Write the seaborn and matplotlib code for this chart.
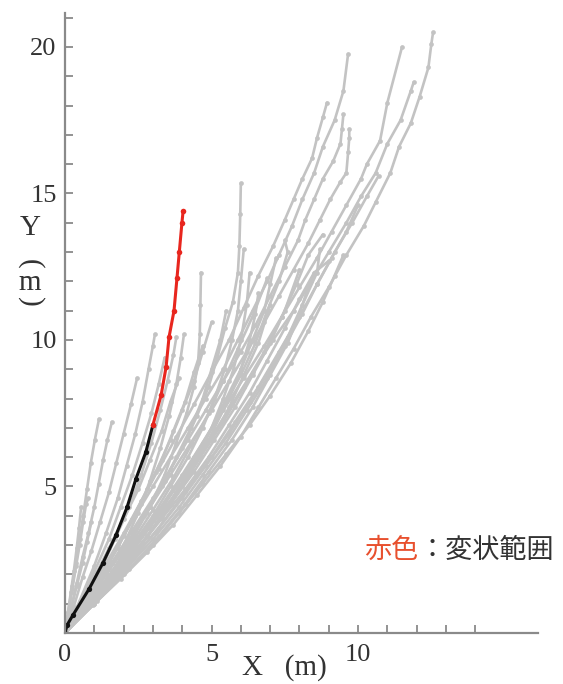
import matplotlib
matplotlib.use("Agg")
import matplotlib.pyplot as plt
import seaborn as sns
import pandas as pd

# ---------------- data (metres) ----------------
track_01 = [(0, 0), (0.1, 0.7), (0.2, 1.4), (0.3, 2.1), (0.4, 2.9), (0.48, 3.6), (0.55, 4.3)]
track_02 = [(0, 0), (0.12, 0.7), (0.25, 1.5), (0.38, 2.3), (0.5, 3.0), (0.62, 3.8), (0.72, 4.4), (0.8, 4.6)]
track_03 = [(0, 0), (0.12, 0.8), (0.25, 1.6), (0.38, 2.4), (0.5, 3.2), (0.62, 4.0), (0.75, 4.9), (0.88, 5.8), (1.02, 6.6), (1.16, 7.3)]
track_04 = [(0, 0), (0.2, 0.8), (0.4, 1.7), (0.6, 2.6), (0.8, 3.4), (1.0, 4.3), (1.15, 5.1), (1.3, 5.9), (1.45, 6.6), (1.6, 7.2)]
track_05 = [(0, 0), (0.3, 0.9), (0.6, 1.9), (0.9, 2.8), (1.2, 3.8), (1.5, 4.8), (1.75, 5.8), (2.0, 6.8), (2.25, 7.8), (2.46, 8.7)]
track_06 = [(0, 0), (0.5, 1.1), (1.0, 2.3), (1.4, 3.4), (1.8, 4.6), (2.1, 5.7), (2.4, 6.8), (2.65, 7.9), (2.85, 9.0), (3.0, 9.8), (3.07, 10.2)]
track_07 = [(0, 0), (0.6, 1.0), (1.2, 2.1), (1.7, 3.2), (2.2, 4.3), (2.6, 5.4), (2.95, 6.5), (3.25, 7.6), (3.5, 8.6), (3.7, 9.5), (3.8, 10.1)]
track_08 = [(0, 0), (0.7, 1.0), (1.4, 2.0), (2.0, 3.0), (2.5, 4.1), (2.9, 5.2), (3.25, 6.3), (3.55, 7.4), (3.8, 8.5), (3.95, 9.4), (4.06, 10.2)]
track_09 = [(0, 0), (0.8, 1.0), (1.6, 2.1), (2.3, 3.2), (2.9, 4.3), (3.4, 5.4), (3.8, 6.5), (4.15, 7.5), (4.4, 8.4), (4.54, 9.2), (4.6, 10.2), (4.62, 11.2), (4.64, 12.3)]
track_10 = [(0, 0), (0.7, 1.0), (1.4, 2.0), (2.1, 3.0), (2.8, 4.1), (3.4, 5.2), (4.0, 6.3), (4.5, 7.4), (4.9, 8.4), (5.2, 9.4), (5.46, 10.4), (5.73, 11.3), (5.9, 12.3), (5.95, 13.2), (5.98, 14.3), (6.0, 15.35)]
track_11 = [(0, 0), (0.8, 1.0), (1.6, 2.0), (2.3, 3.0), (3.0, 4.0), (3.6, 5.0), (4.2, 6.0), (4.7, 7.0), (5.1, 8.0), (5.45, 9.0), (5.7, 10.0), (5.9, 11.0), (6.0, 12.0), (6.1, 13.1)]
track_12 = [(0, 0), (0.9, 1.0), (1.8, 2.0), (2.6, 3.0), (3.3, 4.0), (3.9, 5.0), (4.5, 6.0), (5.0, 7.0), (5.4, 8.0), (5.75, 9.0), (6.0, 10.0), (6.2, 11.2), (6.3, 12.3)]
track_13 = [(0, 0), (0.8, 1.0), (1.6, 2.0), (2.4, 3.0), (3.1, 4.0), (3.8, 5.0), (4.4, 6.0), (5.0, 7.0), (5.5, 8.0), (6.0, 9.0), (6.4, 10.0), (6.8, 11.0), (7.0, 11.9), (7.2, 12.8)]
track_14 = [(0, 0), (0.9, 1.1), (1.8, 2.2), (2.6, 3.3), (3.4, 4.4), (4.1, 5.5), (4.8, 6.6), (5.4, 7.7), (6.0, 8.8), (6.5, 9.9), (6.9, 11.0), (7.3, 12.0), (7.6, 13.0), (7.5, 13.4)]
track_15 = [(0, 0), (0.6, 1.0), (1.3, 2.2), (2.0, 3.4), (2.6, 4.5), (3.2, 5.6), (3.8, 6.7), (4.4, 7.8), (5.0, 8.9), (5.6, 10.0), (6.1, 11.1), (6.6, 12.2), (7.1, 13.2), (7.5, 14.1), (7.8, 14.8), (8.1, 15.5), (8.43, 16.2), (8.6, 16.9), (8.8, 17.6), (8.94, 18.1)]
track_16 = [(0, 0), (0.6, 1.0), (1.2, 2.0), (1.8, 3.0), (2.4, 4.0), (3.0, 5.0), (3.6, 6.0), (4.2, 7.0), (4.8, 8.0), (5.4, 9.0), (5.9, 10.0), (6.4, 11.0), (6.9, 12.0), (7.3, 12.9), (7.75, 13.9), (8.1, 14.8), (8.5, 15.7), (8.8, 16.6), (9.2, 17.5), (9.5, 18.5), (9.66, 19.76)]
track_17 = [(0, 0), (0.8, 1.2), (1.6, 2.4), (2.3, 3.5), (3.0, 4.6), (3.6, 5.6), (4.2, 6.6), (4.8, 7.6), (5.4, 8.6), (6.0, 9.6), (6.5, 10.5), (7.0, 11.5), (7.5, 12.5), (7.95, 13.4), (8.2, 14.1), (8.5, 14.8), (8.8, 15.5), (9.15, 16.1), (9.4, 16.7), (9.45, 17.2), (9.5, 17.7)]
track_18 = [(0, 0), (0.7, 1.0), (1.4, 2.0), (2.2, 3.2), (2.9, 4.3), (3.6, 5.4), (4.3, 6.5), (5.0, 7.6), (5.6, 8.6), (6.2, 9.6), (6.8, 10.6), (7.3, 11.5), (7.8, 12.4), (8.3, 13.3), (8.7, 14.1), (9.05, 14.8), (9.4, 15.4), (9.6, 15.7), (9.66, 16.4), (9.7, 16.9), (9.7, 17.2)]
track_19 = [(0, 0), (0.8, 1.0), (1.6, 2.0), (2.4, 3.1), (3.2, 4.2), (4.0, 5.4), (4.7, 6.5), (5.4, 7.6), (6.1, 8.7), (6.8, 9.8), (7.4, 10.8), (8.0, 11.8), (8.6, 12.8), (9.1, 13.7), (9.6, 14.6), (10.1, 15.5), (10.3, 16.0), (10.75, 16.8), (11.0, 18.1), (11.5, 20.0)]
track_20 = [(0, 0), (0.9, 1.1), (1.7, 2.1), (2.6, 3.3), (3.4, 4.4), (4.2, 5.6), (5.0, 6.7), (5.7, 7.8), (6.4, 8.9), (7.1, 10.0), (7.8, 11.0), (8.4, 12.0), (9.0, 13.0), (9.6, 14.0), (10.1, 14.9), (10.6, 15.7), (11.0, 16.7), (11.45, 17.5), (11.8, 18.5), (11.9, 18.8)]
track_21 = [(0, 0), (0.95, 0.95), (1.9, 1.85), (2.8, 2.75), (3.7, 3.7), (4.5, 4.7), (5.3, 5.7), (6.0, 6.7), (6.6, 7.7), (7.2, 8.7), (7.8, 9.7), (8.4, 10.8), (9.0, 11.8), (9.6, 12.9), (10.2, 13.9), (10.6, 14.7), (11.1, 15.7), (11.4, 16.6), (11.8, 17.4), (12.1, 18.3), (12.4, 19.3), (12.5, 20.1), (12.56, 20.5)]
track_22 = [(0, 0), (1.0, 1.0), (2.0, 2.0), (3.0, 3.0), (3.9, 4.1), (4.7, 5.1), (5.5, 6.1), (6.3, 7.1), (7.0, 8.1), (7.7, 9.2), (8.3, 10.3), (8.8, 11.3), (9.2, 12.2), (9.5, 12.9)]
track_23 = [(0, 0), (1.0, 1.1), (1.9, 2.2), (2.8, 3.3), (3.6, 4.4), (4.4, 5.5), (5.1, 6.6), (5.8, 7.7), (6.4, 8.8), (7.0, 9.9), (7.5, 11.0), (8.0, 12.4)]
track_24 = [(0, 0), (0.9, 1.0), (1.8, 2.0), (2.6, 3.0), (3.3, 4.0), (4.0, 5.0), (4.6, 6.0), (5.1, 7.0), (5.6, 8.0), (6.0, 9.0), (6.3, 10.0), (6.5, 10.9), (6.6, 11.6)]
track_25 = [(0, 0), (0.7, 1.0), (1.4, 2.0), (2.1, 3.0), (2.7, 4.0), (3.3, 5.0), (3.8, 6.0), (4.3, 7.0), (4.7, 8.0), (5.0, 9.0), (5.3, 10.0), (5.5, 11.0)]
track_26 = [(0, 0), (1.0, 1.2), (2.0, 2.4), (2.9, 3.6), (3.8, 4.8), (4.6, 6.0), (5.4, 7.2), (6.1, 8.4), (6.8, 9.6), (7.4, 10.8), (7.9, 11.9), (8.3, 12.9), (8.8, 13.6)]
track_27 = [(0, 0), (0.6, 0.9), (1.2, 1.9), (1.8, 2.9), (2.3, 3.9), (2.8, 4.9), (3.3, 5.9), (3.7, 6.9), (4.1, 7.9), (4.4, 8.9), (4.7, 9.8)]
track_28 = [(0, 0), (1.1, 1.2), (2.2, 2.4), (3.2, 3.6), (4.1, 4.8), (5.0, 6.0), (5.8, 7.2), (6.6, 8.4), (7.3, 9.6), (8.0, 10.8), (8.6, 11.9), (9.2, 13.0), (9.8, 14.0), (10.3, 14.9), (10.7, 15.6)]
track_29 = [(0, 0), (0.5, 0.9), (1.0, 1.9), (1.5, 2.9), (2.0, 3.9), (2.5, 4.9), (2.9, 5.9), (3.3, 6.9), (3.6, 7.9), (3.9, 8.7)]
track_30 = [(0, 0), (0.8, 0.9), (1.7, 1.9), (2.5, 2.9), (3.3, 3.9), (4.1, 4.9), (4.9, 6.0), (5.6, 7.1), (6.3, 8.2), (6.9, 9.3), (7.5, 10.4), (8.0, 11.4), (8.5, 12.3), (9.0, 12.7)]
track_31 = [(0, 0), (0.7, 1.1), (1.4, 2.2), (2.0, 3.3), (2.6, 4.4), (3.1, 5.5), (3.6, 6.6), (4.0, 7.6), (4.4, 8.6), (4.7, 9.6), (5.0, 10.6)]
track_32 = [(0, 0), (1.0, 1.1), (1.9, 2.2), (2.8, 3.3), (3.6, 4.4), (4.3, 5.5), (5.0, 6.6), (5.6, 7.7), (6.1, 8.8), (6.6, 9.9), (7.0, 11.2)]
track_33 = [(0, 0), (1.1, 1.1), (2.2, 2.2), (3.2, 3.3), (4.1, 4.4), (4.9, 5.5), (5.7, 6.6), (6.4, 7.7), (7.0, 8.8), (7.6, 9.9), (8.0, 10.9), (8.3, 11.8)]
track_34 = [(0, 0), (1.0, 1.0), (2.0, 2.1), (3.0, 3.2), (3.9, 4.3), (4.7, 5.4), (5.5, 6.5), (6.2, 7.6), (6.9, 8.7), (7.5, 9.8), (8.1, 10.9), (8.6, 11.9), (9.1, 12.8), (9.6, 13.7), (10.0, 14.6)]
track_35 = [(0, 0), (0.8, 1.05), (1.6, 2.1), (2.3, 3.1), (3.0, 4.2), (3.7, 5.3), (4.3, 6.4), (4.9, 7.5), (5.4, 8.6), (5.9, 9.7), (6.4, 10.8), (6.9, 12.1)]
track_36 = [(0, 0), (0.5, 1.0), (1.0, 2.1), (1.5, 3.2), (1.9, 4.3), (2.3, 5.4), (2.65, 6.5), (2.95, 7.5), (3.2, 8.5), (3.4, 9.4)]
track_37 = [(0, 0), (1.05, 1.15), (2.1, 2.3), (3.1, 3.45), (4.0, 4.6), (4.8, 5.7), (5.6, 6.8), (6.3, 7.9), (7.0, 9.0), (7.6, 10.1), (8.1, 11.2), (8.6, 12.3), (8.7, 13.1)]
track_38 = [(0, 0), (0.2, 0.8), (0.4, 1.6), (0.6, 2.4), (0.75, 3.1), (0.9, 3.8)]

grey_tracks = [track_01, track_02, track_03, track_04, track_05, track_06, track_07, track_08,
               track_09, track_10, track_11, track_12, track_13, track_14, track_15, track_16,
               track_17, track_18, track_19, track_20, track_21, track_22, track_23, track_24,
               track_25, track_26, track_27, track_28, track_29, track_30, track_31, track_32,
               track_33, track_34, track_35, track_36, track_37, track_38]

# highlighted track: black part (stable) and red part (deformed range)
black_part = [(0, 0), (0.07, 0.27), (0.27, 0.61), (0.82, 1.5), (1.3, 2.4), (1.74, 3.34), (2.12, 4.3), (2.42, 5.26), (2.76, 6.18), (3.0, 7.1)]
red_part = [(3.0, 7.1), (3.28, 8.12), (3.45, 9.08), (3.55, 10.1), (3.72, 11.0), (3.82, 12.1), (3.9, 13.0), (3.99, 14.0), (4.03, 14.4)]

x_tick_values = list(range(0, 15))
x_tick_labels = {0: "0", 5: "5", 10: "10"}
y_tick_values = list(range(1, 22))
y_tick_labels = {5: "5", 10: "10", 15: "15", 20: "20"}
legend_red = "赤色"
legend_rest = "：変状範囲"

# ---------------- build tables ----------------
rows = []
for i, tr in enumerate(grey_tracks):
    for (x, y) in tr:
        rows.append({"track": i, "x": x, "y": y})
grey_df = pd.DataFrame(rows)
black_df = pd.DataFrame(black_part, columns=["x", "y"])
red_df = pd.DataFrame(red_part, columns=["x", "y"])

# ---------------- drawing ----------------
sns.set_theme(style="white")
plt.rcParams["font.family"] = ["Liberation Serif", "Noto Sans CJK JP", "DejaVu Sans"]

W, H = 563, 684
fig = plt.figure(figsize=(W / 100, H / 100), dpi=100)
ax = fig.add_axes([65 / W, 51 / H, (538 - 65) / W, (633 - 13) / H])

GREY = "#c3c3c3"
sns.lineplot(data=grey_df, x="x", y="y", units="track", estimator=None, sort=False,
             color=GREY, lw=1.9, marker="o", markersize=3.4, markeredgewidth=0,
             ax=ax, legend=False)
sns.lineplot(data=black_df, x="x", y="y", estimator=None, sort=False, color="#111111",
             lw=2.2, marker="o", markersize=3.8, markeredgewidth=0, ax=ax, legend=False)
sns.lineplot(data=red_df, x="x", y="y", estimator=None, sort=False, color="#e8261e",
             lw=2.2, marker="o", markersize=4.0, markeredgewidth=0, ax=ax, legend=False)

ax.set_xlim(0, 16.14)
ax.set_ylim(0, 21.16)
ax.set_xlabel("")
ax.set_ylabel("")
for s in ["top", "right"]:
    ax.spines[s].set_visible(False)
for s in ["left", "bottom"]:
    ax.spines[s].set_color("#8a8a8a")
    ax.spines[s].set_linewidth(1.6)

ax.set_xticks(x_tick_values)
ax.set_xticklabels([x_tick_labels.get(v, "") for v in x_tick_values])
ax.set_yticks(y_tick_values)
ax.set_yticklabels([y_tick_labels.get(v, "") for v in y_tick_values])
ax.tick_params(bottom=True, left=True, direction="in", length=6, width=1.3,
               color="#8a8a8a", labelsize=19, labelcolor="#333333")
ax.tick_params(axis="x", pad=8)
ax.tick_params(axis="y", pad=6)
ax.set_facecolor("white")

serif = ["Liberation Serif", "DejaVu Serif"]
cjk = ["Noto Sans CJK JP", "DejaVu Sans"]
# axis titles
fig.text(284 / W, 1 - 668 / H, "X   (m)", ha="center", va="center", fontsize=21,
         color="#333333", family=serif)
fig.text(30 / W, 1 - 228 / H, "Y", ha="center", va="center", fontsize=21,
         color="#333333", family=serif)
# vertical "(m)": parentheses turned sideways, m upright
fig.text(30 / W, 1 - 264 / H, "(", ha="center", va="center", fontsize=21,
         color="#333333", family=serif, rotation=270)
fig.text(30 / W, 1 - 283 / H, "m", ha="center", va="center", fontsize=21,
         color="#333333", family=serif)
fig.text(30 / W, 1 - 302 / H, ")", ha="center", va="center", fontsize=21,
         color="#333333", family=serif, rotation=270)

# note text
t1 = fig.text(364 / W, 1 - 550 / H, legend_red, ha="left", va="center", fontsize=19.5,
              color="#e8502e", family=cjk)
fig.canvas.draw()
bb = t1.get_window_extent()
fig.text(bb.x1 / W, 1 - 550 / H, legend_rest, ha="left", va="center", fontsize=19.5,
         color="#333333", family=cjk)

fig.savefig("out.png", dpi=100, facecolor="white")
